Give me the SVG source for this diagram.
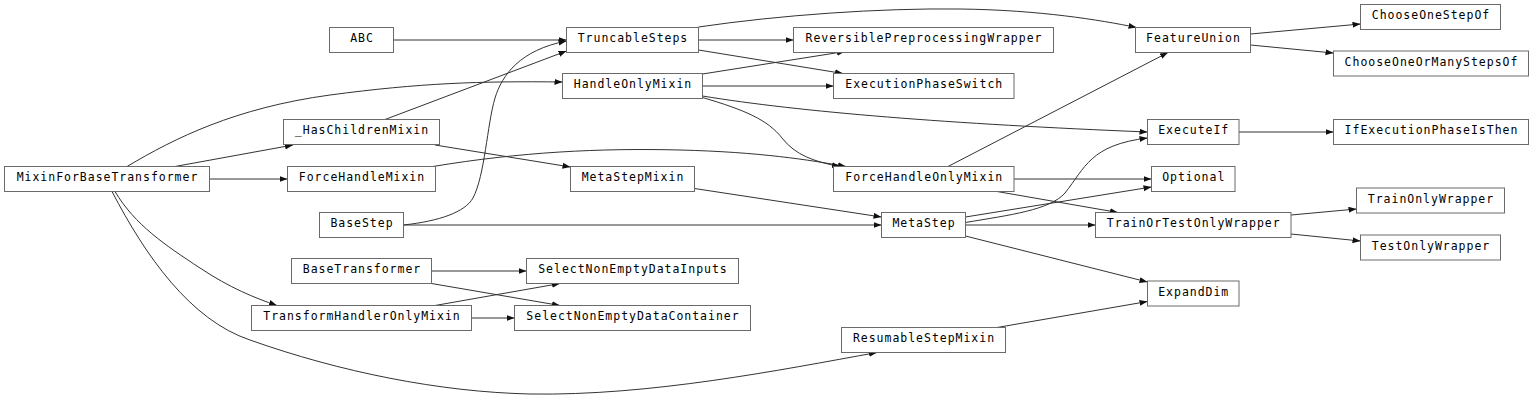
<svg xmlns="http://www.w3.org/2000/svg" width="1536" height="401" viewBox="0 0 1536 401">
<defs>
<style>
.node rect{fill:#fff;stroke:#6a6a6a;stroke-width:1}
.node text{font-family:"DejaVu Sans Mono","Liberation Mono",monospace;font-size:11.5px;fill:#000;text-anchor:middle}
.edges path{fill:none;stroke:#333;stroke-width:1;marker-end:url(#arr)}
</style>
<marker id="arr" markerUnits="userSpaceOnUse" markerWidth="9" markerHeight="7" refX="8" refY="3" orient="auto">
<path d="M0,0 L8,3 L0,6 z" fill="#111"/>
</marker>
</defs>
<rect width="1536" height="401" fill="#fff"/>
<g id="connectors" class="edges">
<path d="M393.5,40 L566.5,40"/>
<path d="M385,119.5 L566.5,51"/>
<path d="M403.5,225 C440,221 465,212 473,198 C485,175 487,125 495,98 C502,75 520,50 566.5,41"/>
<path d="M127,166.5 C175,138 235,108 330,95 C420,83 480,81 562.5,82"/>
<path d="M175,166.5 L293,145"/>
<path d="M209.5,179 L287.5,179"/>
<path d="M115,191.5 C135,225 165,245 200,268 C230,288 255,298 277,305.5"/>
<path d="M112,191.5 C145,255 190,320 250,340 C340,372 440,392 530,394 C650,396 780,370 877,352.5"/>
<path d="M435,145 L570.5,167"/>
<path d="M433,166.5 C520,152 600,148 680,150 C760,152 810,160 846,166.5"/>
<path d="M702.5,97.5 C745,110 768,120 782,138 C795,155 815,162 840,166.5"/>
<path d="M702.5,74 L845,51.5"/>
<path d="M702.5,86 L833.5,86"/>
<path d="M702.5,96 C800,112 950,124 1147.5,132"/>
<path d="M698.5,40 L793.5,40"/>
<path d="M698.5,50 L843,73.5"/>
<path d="M698.5,27 C780,15 880,8 960,9 C1040,10 1100,20 1136.5,27.5"/>
<path d="M948,166.5 L1168,52.5"/>
<path d="M1014,179 L1151.5,179"/>
<path d="M997,191.5 L1118,212.5"/>
<path d="M1250.5,34 L1360.5,24"/>
<path d="M1250.5,45 L1333.5,53"/>
<path d="M1239,132 L1333.5,132"/>
<path d="M694.5,188.5 L881.5,217"/>
<path d="M403.5,225 L881.5,225"/>
<path d="M965.5,222.5 C1010,215 1050,210 1065,193 C1085,168 1090,145 1147.5,138"/>
<path d="M965.5,217 L1151.5,187"/>
<path d="M965.5,225 L1095.5,225"/>
<path d="M965.5,236 L1147.5,282"/>
<path d="M1291,215 L1356.5,209"/>
<path d="M1291,234 L1360.5,241"/>
<path d="M997,327.5 L1147.5,301.5"/>
<path d="M431.5,271 L526.5,271"/>
<path d="M431.5,283.5 L560,305.5"/>
<path d="M435,305.5 L560,283.5"/>
<path d="M471.5,318 L514.5,318"/>
</g>
<g id="ABC" class="node"><rect x="329.5" y="27.5" width="64" height="25"/><text x="361.5" y="42" textLength="22.7" lengthAdjust="spacing">ABC</text></g>
<g id="TruncableSteps" class="node"><rect x="566.5" y="27.5" width="132" height="25"/><text x="632.5" y="42" textLength="109.6" lengthAdjust="spacing">TruncableSteps</text></g>
<g id="ReversiblePreprocessingWrapper" class="node"><rect x="793.5" y="27.5" width="260" height="25"/><text x="923.5" y="42" textLength="236" lengthAdjust="spacing">ReversiblePreprocessingWrapper</text></g>
<g id="FeatureUnion" class="node"><rect x="1135.5" y="27.5" width="115" height="25"/><text x="1193" y="42" textLength="93.8" lengthAdjust="spacing">FeatureUnion</text></g>
<g id="ChooseOneStepOf" class="node"><rect x="1360.5" y="4.5" width="140" height="25"/><text x="1430.5" y="19" textLength="117.5" lengthAdjust="spacing">ChooseOneStepOf</text></g>
<g id="ChooseOneOrManyStepsOf" class="node"><rect x="1333.5" y="51" width="195" height="25"/><text x="1431" y="65.5" textLength="172.8" lengthAdjust="spacing">ChooseOneOrManyStepsOf</text></g>
<g id="HandleOnlyMixin" class="node"><rect x="562.5" y="73.5" width="140" height="25"/><text x="632.5" y="88" textLength="117.5" lengthAdjust="spacing">HandleOnlyMixin</text></g>
<g id="ExecutionPhaseSwitch" class="node"><rect x="833.5" y="73.5" width="180.5" height="25"/><text x="923.75" y="88" textLength="157" lengthAdjust="spacing">ExecutionPhaseSwitch</text></g>
<g id="_HasChildrenMixin" class="node"><rect x="283.5" y="119.5" width="156" height="25"/><text x="361.5" y="134" textLength="133.3" lengthAdjust="spacing">_HasChildrenMixin</text></g>
<g id="ExecuteIf" class="node"><rect x="1147.5" y="119.5" width="91.5" height="25"/><text x="1193.25" y="134" textLength="70.1" lengthAdjust="spacing">ExecuteIf</text></g>
<g id="IfExecutionPhaseIsThen" class="node"><rect x="1333.5" y="119.5" width="195" height="25"/><text x="1431" y="134" textLength="172.8" lengthAdjust="spacing">IfExecutionPhaseIsThen</text></g>
<g id="MixinForBaseTransformer" class="node"><rect x="4.5" y="166.5" width="205" height="25"/><text x="107" y="181" textLength="180.7" lengthAdjust="spacing">MixinForBaseTransformer</text></g>
<g id="ForceHandleMixin" class="node"><rect x="287.5" y="166.5" width="148" height="25"/><text x="361.5" y="181" textLength="125.4" lengthAdjust="spacing">ForceHandleMixin</text></g>
<g id="MetaStepMixin" class="node"><rect x="570.5" y="166.5" width="124" height="25"/><text x="632.5" y="181" textLength="101.7" lengthAdjust="spacing">MetaStepMixin</text></g>
<g id="ForceHandleOnlyMixin" class="node"><rect x="833.5" y="166.5" width="180.5" height="25"/><text x="923.75" y="181" textLength="157" lengthAdjust="spacing">ForceHandleOnlyMixin</text></g>
<g id="Optional" class="node"><rect x="1151.5" y="166.5" width="83.5" height="25"/><text x="1193.25" y="181" textLength="62.2" lengthAdjust="spacing">Optional</text></g>
<g id="TrainOnlyWrapper" class="node"><rect x="1356.5" y="188" width="148" height="25"/><text x="1430.5" y="202.5" textLength="125.4" lengthAdjust="spacing">TrainOnlyWrapper</text></g>
<g id="BaseStep" class="node"><rect x="319.5" y="212.5" width="84" height="25"/><text x="361.5" y="227" textLength="62.2" lengthAdjust="spacing">BaseStep</text></g>
<g id="MetaStep" class="node"><rect x="881.5" y="212.5" width="84" height="25"/><text x="923.5" y="227" textLength="62.2" lengthAdjust="spacing">MetaStep</text></g>
<g id="TrainOrTestOnlyWrapper" class="node"><rect x="1095.5" y="212.5" width="195.5" height="25"/><text x="1193.25" y="227" textLength="172.8" lengthAdjust="spacing">TrainOrTestOnlyWrapper</text></g>
<g id="TestOnlyWrapper" class="node"><rect x="1360.5" y="235" width="140" height="25"/><text x="1430.5" y="249.5" textLength="117.5" lengthAdjust="spacing">TestOnlyWrapper</text></g>
<g id="BaseTransformer" class="node"><rect x="291.5" y="258.5" width="140" height="25"/><text x="361.5" y="273" textLength="117.5" lengthAdjust="spacing">BaseTransformer</text></g>
<g id="SelectNonEmptyDataInputs" class="node"><rect x="526.5" y="258.5" width="212" height="25"/><text x="632.5" y="273" textLength="188.6" lengthAdjust="spacing">SelectNonEmptyDataInputs</text></g>
<g id="ExpandDim" class="node"><rect x="1147.5" y="281" width="91.5" height="25"/><text x="1193.25" y="295.5" textLength="70.1" lengthAdjust="spacing">ExpandDim</text></g>
<g id="TransformHandlerOnlyMixin" class="node"><rect x="251.5" y="305.5" width="220" height="25"/><text x="361.5" y="320" textLength="196.5" lengthAdjust="spacing">TransformHandlerOnlyMixin</text></g>
<g id="SelectNonEmptyDataContainer" class="node"><rect x="514.5" y="305.5" width="236" height="25"/><text x="632.5" y="320" textLength="212.3" lengthAdjust="spacing">SelectNonEmptyDataContainer</text></g>
<g id="ResumableStepMixin" class="node"><rect x="841.5" y="327.5" width="164" height="25"/><text x="923.5" y="342" textLength="141.2" lengthAdjust="spacing">ResumableStepMixin</text></g>
</svg>
